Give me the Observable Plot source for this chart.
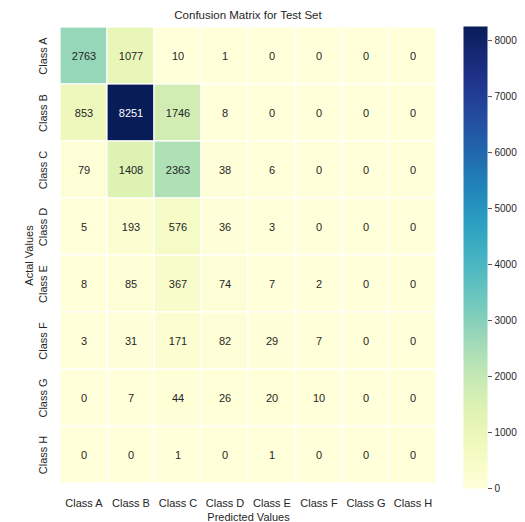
<!DOCTYPE html>
<html>
<head>
<meta charset="utf-8">
<script src="https://cdn.jsdelivr.net/npm/d3@7"></script>
<script src="https://cdn.jsdelivr.net/npm/@observablehq/plot@0.6"></script>
<style>
  html, body { margin: 0; padding: 0; background: #ffffff; }
  #chart { position: relative; width: 525px; height: 522px; font-family: "Liberation Sans", Arial, sans-serif; }
  #chart svg { position: absolute; top: 0; }
  #title { position: absolute; top: 9px; left: 60px; width: 376px; text-align: center; font-size: 11.5px; color: #262626; }
</style>
</head>
<body>
<div id="chart"><div id="title">Confusion Matrix for Test Set</div></div>
<script>
// Class labels (actual on rows, predicted on columns)
const classes = ["Class A", "Class B", "Class C", "Class D", "Class E", "Class F", "Class G", "Class H"];

// Counts per actual class, one entry per predicted class
const rowA = [2763, 1077, 10, 1, 0, 0, 0, 0];
const rowB = [853, 8251, 1746, 8, 0, 0, 0, 0];
const rowC = [79, 1408, 2363, 38, 6, 0, 0, 0];
const rowD = [5, 193, 576, 36, 3, 0, 0, 0];
const rowE = [8, 85, 367, 74, 7, 2, 0, 0];
const rowF = [3, 31, 171, 82, 29, 7, 0, 0];
const rowG = [0, 7, 44, 26, 20, 10, 0, 0];
const rowH = [0, 0, 1, 0, 1, 0, 0, 0];

const colorbarTicks = [0, 1000, 2000, 3000, 4000, 5000, 6000, 7000, 8000];

const rows = [rowA, rowB, rowC, rowD, rowE, rowF, rowG, rowH];
const cells = rows.flatMap((r, i) => r.map((v, j) => ({actual: classes[i], predicted: classes[j], value: v})));
const vmax = d3.max(cells, d => d.value);

const colorOpts = {type: "sequential", scheme: "YlGnBu", domain: [0, vmax]};

// Pick light or dark annotation text depending on cell luminance
function textColor(v) {
  const c = d3.rgb(d3.interpolateYlGnBu(v / vmax));
  const lum = (0.2126 * c.r + 0.7152 * c.g + 0.0722 * c.b) / 255;
  return lum < 0.408 ? "#ffffff" : "#262626";
}

const heat = Plot.plot({
  width: 525,
  height: 522,
  marginLeft: 60,
  marginRight: 89,
  marginTop: 26,
  marginBottom: 38,
  style: {fontFamily: "Liberation Sans, Arial, sans-serif", fontSize: "11px", color: "#262626", background: "transparent"},
  x: {domain: classes, padding: 0},
  y: {domain: classes, padding: 0},
  color: colorOpts,
  marks: [
    Plot.cell(cells, {x: "predicted", y: "actual", fill: "value", stroke: "#ffffff", strokeWidth: 1.2}),
    Plot.text(cells, {x: "predicted", y: "actual", text: d => String(d.value), fill: d => textColor(d.value), fontSize: 11}),
    Plot.axisX({anchor: "bottom", tickSize: 0, tickPadding: 15, label: "Predicted Values", labelAnchor: "center", labelOffset: 36, labelArrow: "none", fontSize: 11}),
    Plot.axisY({anchor: "left", tickSize: 0, tickPadding: 14, tickRotate: -90, label: "Actal Values", labelAnchor: "center", labelOffset: 35, labelArrow: "none", fontSize: 11})
  ]
});

const bar = Plot.plot({
  width: 62,
  height: 522,
  marginLeft: 0,
  marginRight: 38,
  marginTop: 26,
  marginBottom: 34,
  style: {fontFamily: "Liberation Sans, Arial, sans-serif", fontSize: "10px", color: "#262626", background: "transparent"},
  x: {domain: [0, 1], axis: null},
  y: {domain: [0, vmax]},
  color: colorOpts,
  marks: [
    Plot.raster({x1: 0, x2: 1, y1: 0, y2: vmax, width: 1, height: 400, fill: (x, y) => y, imageRendering: "auto"}),
    Plot.axisY({anchor: "right", ticks: colorbarTicks, tickFormat: "d", tickSize: 4, tickPadding: 3, stroke: "#555", label: null, fontSize: 10})
  ]
});
bar.style.left = "463px";

const chart = document.getElementById("chart");
chart.appendChild(heat);
chart.appendChild(bar);
</script>
</body>
</html>
